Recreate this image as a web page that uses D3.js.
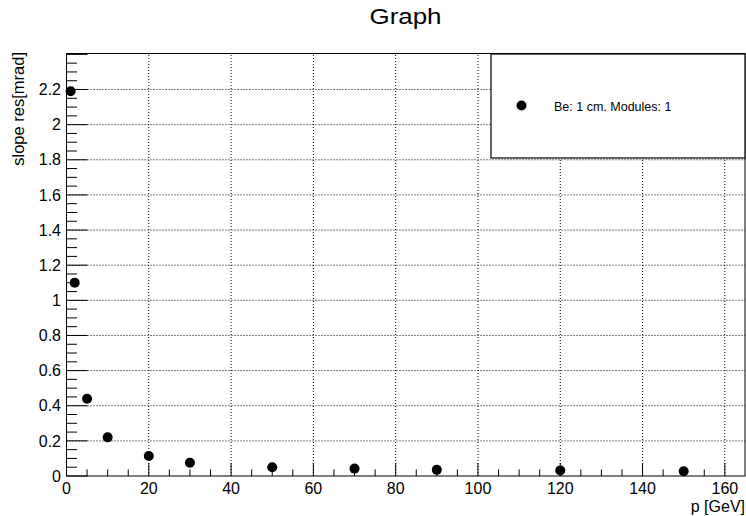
<!DOCTYPE html>
<html>
<head>
<meta charset="utf-8">
<script src="https://cdn.jsdelivr.net/npm/d3@7"></script>
<style>
  body { margin: 0; background: #fff; }
  svg { font-family: "Liberation Sans", Arial, Helvetica, sans-serif; }
</style>
</head>
<body>
<script>
// momentum points [GeV] and slope resolution [mrad]
var pValues = [1, 2, 5, 10, 20, 30, 50, 70, 90, 120, 150];
var slopeRes = [2.19, 1.10, 0.44, 0.22, 0.114, 0.075, 0.05, 0.042, 0.035, 0.032, 0.027];
var xTicks = [0, 20, 40, 60, 80, 100, 120, 140, 160];
var yTicks = [0, 0.2, 0.4, 0.6, 0.8, 1, 1.2, 1.4, 1.6, 1.8, 2, 2.2];
var legendLabel = "Be: 1 cm. Modules: 1";

var width = 746, height = 516;
var margin = { top: 53.5, right: 1, bottom: 40, left: 66.5 };

var svg = d3.select("body")
    .append("svg")
    .attr("width", width)
    .attr("height", height);

var x = d3.scaleLinear([0, 164.9], [margin.left, width - margin.right]);
var y = d3.scaleLinear([0, 2.405], [height - margin.bottom, margin.top]);

// grid
svg.append("g")
    .selectAll("line")
    .data(xTicks.filter(d => d > 0))
    .join("line")
    .attr("x1", d => x(d)).attr("x2", d => x(d))
    .attr("y1", y.range()[0]).attr("y2", y.range()[1])
    .attr("stroke", "#000")
    .attr("stroke-width", 1)
    .attr("stroke-dasharray", "1,2");

svg.append("g")
    .selectAll("line")
    .data(yTicks.filter(d => d > 0))
    .join("line")
    .attr("x1", x.range()[0]).attr("x2", x.range()[1])
    .attr("y1", d => y(d)).attr("y2", d => y(d))
    .attr("stroke", "#000")
    .attr("stroke-width", 1)
    .attr("stroke-dasharray", "1,2");

// ticks ROOT style: inside the frame
var xMinor = d3.range(0, 165, 5);
var yMinor = d3.range(0, 2.41, 0.05);

svg.append("g")
    .selectAll("line")
    .data(xMinor)
    .join("line")
    .attr("x1", d => x(d)).attr("x2", d => x(d))
    .attr("y1", y(0))
    .attr("y2", d => y(0) - (d % 20 === 0 ? 13 : 6.5))
    .attr("stroke", "#000");

svg.append("g")
    .selectAll("line")
    .data(yMinor)
    .join("line")
    .attr("y1", d => y(d)).attr("y2", d => y(d))
    .attr("x1", x(0))
    .attr("x2", (d, i) => x(0) + (i % 4 === 0 ? 21 : 10.5))
    .attr("stroke", "#000");

// tick labels
svg.append("g")
    .selectAll("text")
    .data(xTicks)
    .join("text")
    .attr("x", d => x(d))
    .attr("y", y(0) + 17.5)
    .attr("text-anchor", "middle")
    .attr("font-size", 16)
    .attr("fill", "#000")
    .text(d => d);

svg.append("g")
    .selectAll("text")
    .data(yTicks)
    .join("text")
    .attr("x", x(0) - 5.5)
    .attr("y", d => y(d) + 5.7)
    .attr("text-anchor", "end")
    .attr("font-size", 16)
    .attr("fill", "#000")
    .text(d => d);

// frame
svg.append("rect")
    .attr("x", x.range()[0])
    .attr("y", y.range()[1])
    .attr("width", x.range()[1] - x.range()[0])
    .attr("height", y.range()[0] - y.range()[1])
    .attr("fill", "none")
    .attr("stroke", "#000")
    .attr("stroke-width", 1);

// axis titles
svg.append("text")
    .attr("x", width - 1)
    .attr("y", 511.5)
    .attr("text-anchor", "end")
    .attr("font-size", 16)
    .text("p [GeV]");

svg.append("text")
    .attr("transform", `translate(23.5, 52) rotate(-90)`)
    .attr("text-anchor", "end")
    .attr("font-size", 16.5)
    .text("slope res[mrad]");

// title
svg.append("text")
    .attr("x", 405.5)
    .attr("y", 24)
    .attr("text-anchor", "middle")
    .attr("font-size", 22)
    .attr("textLength", 72)
    .attr("lengthAdjust", "spacingAndGlyphs")
    .text("Graph");

// points
svg.append("g")
    .selectAll("circle")
    .data(pValues)
    .join("circle")
    .attr("cx", d => x(d))
    .attr("cy", (d, i) => y(slopeRes[i]))
    .attr("r", 5)
    .attr("fill", "#000");

// legend
var lg = svg.append("g");
lg.append("rect")
    .attr("x", 491)
    .attr("y", 54)
    .attr("width", 254)
    .attr("height", 104)
    .attr("fill", "#fff")
    .attr("stroke", "#000")
    .attr("stroke-width", 1.2);
lg.append("circle")
    .attr("cx", 521.5)
    .attr("cy", 105.5)
    .attr("r", 5)
    .attr("fill", "#000");
lg.append("text")
    .attr("x", 554)
    .attr("y", 111)
    .attr("font-size", 12.5)
    .text(legendLabel);
</script>
</body>
</html>
